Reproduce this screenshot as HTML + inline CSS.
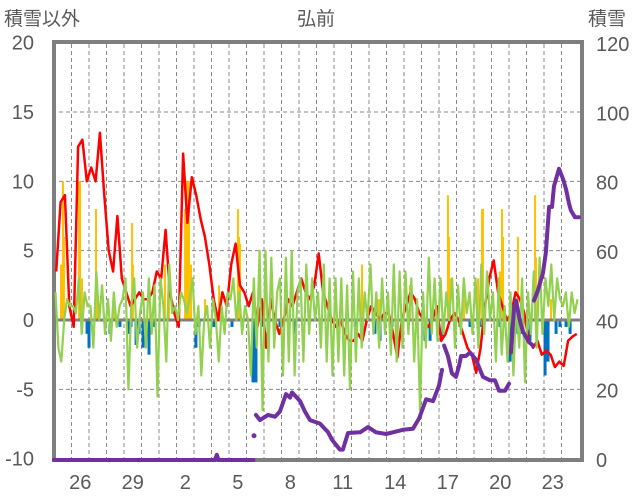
<!DOCTYPE html>
<html><head><meta charset="utf-8">
<style>
html,body{margin:0;padding:0;background:#fff;}
svg{display:block;font-family:"Liberation Sans","Noto Sans CJK JP",sans-serif;}
</style></head>
<body>
<svg id="chart" width="636" height="501" viewBox="0 0 636 501" xmlns="http://www.w3.org/2000/svg">
<text x="316" y="25" font-size="19" fill="#595959" text-anchor="middle">弘前</text>
<text x="4" y="25" font-size="19" fill="#595959">積雪以外</text>
<text x="588" y="25" font-size="19" fill="#595959">積雪</text>
<g id="grid"></g>
<g id="axes"></g>
<g id="bars"></g>
<g id="lines"></g>
</svg>
<script>
const leftTicks = [20, 15, 10, 5, 0, -5, -10];
const rightTicks = [120, 100, 80, 60, 40, 20, 0];
const xLabels = ["26","29","2","5","8","11","14","17","20","23"];
const xLabelDays = [1,4,7,10,13,16,19,22,25,28];
const tempVals = [3.5,8.5,9,1, -0.5,12.5,13,10, 11,10,13.5,9, 5,3.5,7.5,3, 2,1,1.5,2, 1.5,1.5,2,3.5,
 3,6.5,2,0.5, -0.5,12,7,10.3, 9,7.3,6,4, 1.5,0,2,1, 4,5.5,2.5,2, 1,2,-0.5,1.5,
 -2,1.5,0,-1, 0,1.5,1,2, 3,2,1.5,2.5, 4.8,2,1,0, -0.5,0,-1,-1.5, -1.5,-1,-1.5,0,
 1,0.5,0,0.5, 0.5,-1,-2.7,0, 1,2,1.5,0.5, 0,-0.5,0,1, -1.5,-1,0,0.5, 0,-1,-2,-2.5,
 -3.8,-2,1,3, 4.3,2,1,0, 0.5,2,1.5,0.5, -1.5,-2,-1.5,-2.5, -2.2,-2.5,-3.4,-3, -3.3,-1.5,-1.2,-1];
const greenVals = [2,-2,-3,0,1.5,1, 1,0.5,3,-1,2,1, 1,-2,3.5,0,2.5,-1, 1.5,-1.5,2,-0.5,1,1.5,
 3,-5,1,3,-2,0.5, 2,-2,3,-1,2.5,-5.5, 3,1,-3,4,0.5,1, 0,2,1.5,0.5,1.5,3,
 -1,1,-4,0,1,-2, 1.5,0,-3,1,-1,2, 1.5,3,0,2,-1,1, 0,-4,3,-2,5,-6.5,
 5,-3,4.5,-2,2,3, -4,4.5,-3,5,-4,2, 3,-3,4,-1,3,0, 2,-2,4,-3,3,-4,
 3,-3,3,-4,2.5,-5, 3.5,-3,3,-2,2,0, 4,-1,2,-2,3,-1, 2,-2.5,4,-3,3.5,-2,
 3.5,-1,3,-3,1.5,-6.5, 2,-2,4.5,-1,3,-1.5, 3,-1,2,0,3,-2, 2.5,-1,3,0.5,2,-1,
 3,-2,4,-1,3.5,0, 2,-3,3,-2.5,1,-3, 2,-4,1.5,-2,3,-4.5, 2,-1,3.5,-2,4.5,-1,
 3,1,4,0,3,1.5, 1,2,-0.5,2,0.5,1.5];
const precipDays = [0.40,0.51,0.57,1.43,1.49,1.6,2.4,2.46,3.43,4.46,4.51,5.49,6.34,6.57,7.49,7.6,7.71,7.83,8.63,9.43,10.51,10.57,10.63,17.6,18.51,18.63,20.34,22.51,22.57,22.63,23.43,24.23,24.46,24.51,25.49,25.6,25.66,26.51,27.49,27.54,28.4];
const precipVals = [4,10,6,10,10,3,8,3,2,7,4,1.5,4,3,8,10,10,4,1.5,2.5,8,6,5.5,4,1.5,1.5,2.5,9,6,3,2,3,8,8,3.5,8,6,6,9,4.5,1.5];
const negDays = [1.89,2.0,3.2,3.77,4.23,4.4,4.69,4.86,5.09,5.26,5.43,5.6,5.77,8.11,8.29,9.14,10.17,11.37,11.54,11.94,12.91,13.77,16.23,17.2,18.34,18.63,19.31,21.2,21.49,22.23,23.2,23.77,24.34,25.49,26.06,26.23,26.51,26.74,27.2,28.06,28.23,28.69,28.91,29.26,29.49];
const negVals = [-1,-2,-1,-0.5,-1,-0.5,-1.8,-1,-2,-1,-2.5,-0.5,-0.5,-2,-0.5,-0.5,-0.5,-4.5,-4.5,-0.5,-0.5,-1,-0.5,-0.5,-1,-1.5,-0.5,-1.5,-1.5,-1.2,-0.5,-0.5,-0.5,-0.5,-3,-2,-1,-1,-1.5,-4,-3,-1,-0.5,-0.5,-1];
const snowDays = [0,9.2,9.3,9.4,11.4,null,11.43,null,
 11.54,11.77,12.23,12.63,12.91,13.26,13.49,13.6,14.06,14.34,14.63,15.2,15.66,15.89,16.34,16.51,16.8,17.49,17.94,18.4,18.97,19.94,20.51,20.86,21.26,21.66,22.0,22.17,null,
 22.29,22.51,22.74,22.97,23.14,23.26,23.54,23.77,24.11,24.51,24.91,25.2,25.43,25.77,26.0,null,
 26.11,26.29,26.4,26.63,26.8,27.14,27.37,null,
 27.43,27.66,27.94,28.11,28.29,28.46,28.57,28.86,29.09,29.26,29.43,29.54,29.77,30.0];
const snowVals = [0,0,1.5,0,0,null,7,null,
 13,11.5,13,12.5,14,19,18,19.5,17,14,11.5,10.5,8,5.8,3,3,7.8,8,9.5,8,7.5,8.7,9,12,17.5,17,21.5,26,null,
 33,30,25,24,27,30,30,31,29,24,23,23,20,20,22,null,
 31,44,46,40,37,34,33,null,
 46,49,54,60,73,73,79,84,81,78,74,72,70,70];

const NS="http://www.w3.org/2000/svg";
const X0=54, DAYW=17.5, TOP=44, BOT=460, LEFTX=52, RIGHTX=580;
const xS = d => X0 + d*DAYW;
const yL = v => 320 - v*(BOT-TOP)/30;
const yR = v => BOT - v*(BOT-TOP)/120;
function mk(tag, attrs, parent){const e=document.createElementNS(NS,tag);for(const k in attrs)e.setAttribute(k,attrs[k]);parent.appendChild(e);return e;}
const grid=document.getElementById('grid'), bars=document.getElementById('bars'), lines=document.getElementById('lines'), axes=document.getElementById('axes');

leftTicks.forEach(v=>{
  if(v!==0 && v!==20 && v!==-10){
    const l=mk('line',{x1:LEFTX,x2:RIGHTX,y1:yL(v),y2:yL(v),stroke:'#8a8a8a','stroke-width':1,'stroke-dasharray':'4,3'},grid);
    
    
  }
  const t=mk('text',{x:34,y:yL(v)+7,'font-size':20,fill:'#595959','text-anchor':'end'},axes);
  t.textContent=v;
  
  
});
rightTicks.forEach(v=>{
  const t=mk('text',{x:596,y:yR(v)+7,'font-size':20,fill:'#595959'},axes);
  t.textContent=v;
  
  
});
for(let k=1;k<30;k++){
  const l=mk('line',{x1:xS(k),x2:xS(k),y1:TOP,y2:BOT,stroke:'#8a8a8a','stroke-width':1,'stroke-dasharray':'4,3'},grid);
  
  
}
xLabels.forEach((s,i)=>{
  const t=mk('text',{x:xS(xLabelDays[i]+0.5),y:489,'font-size':20,fill:'#595959','text-anchor':'middle'},axes);
  t.textContent=s;
  
  
});

const fr=mk('rect',{x:LEFTX+2,y:TOP-2,width:RIGHTX-LEFTX,height:BOT-TOP+2,fill:'none',stroke:'#7f7f7f','stroke-width':4},axes);



precipDays.forEach((d,i)=>{
  const r=mk('rect',{x:xS(d)-1,y:yL(precipVals[i]),width:2,height:yL(0)-yL(precipVals[i]),fill:'#ffc000'},bars);
  
  
});
negDays.forEach((d,i)=>{
  const r=mk('rect',{x:xS(d)-1.5,y:yL(0),width:3,height:yL(negVals[i])-yL(0),fill:'#0070c0'},bars);
  
  
});

const zl=mk('line',{x1:LEFTX,x2:RIGHTX,y1:yL(0),y2:yL(0),stroke:'#7f7f7f','stroke-width':3},bars);



const redPts=tempVals.map((v,i)=>xS(i*0.25+0.125).toFixed(1)+','+yL(v).toFixed(1)).join(' ');
const red=mk('polyline',{points:redPts,fill:'none',stroke:'#ff0000','stroke-width':2.5,'stroke-linejoin':'round'},lines);



const grPts=greenVals.map((v,i)=>xS(i/6+1/12).toFixed(1)+','+yL(v).toFixed(1)).join(' ');
const gr=mk('polyline',{points:grPts,fill:'none',stroke:'#92d050','stroke-width':2.2,'stroke-linejoin':'round'},lines);



let seg=[];
function flush(){
  if(seg.length===1){
    const c=mk('circle',{cx:seg[0][0],cy:seg[0][1],r:2.5,fill:'#7030a0'},lines);
    
    
  } else if(seg.length>1){
    const p=mk('polyline',{points:seg.map(q=>q[0].toFixed(1)+','+q[1].toFixed(1)).join(' '),fill:'none',stroke:'#7030a0','stroke-width':4,'stroke-linejoin':'round','stroke-linecap':'round'},lines);
    
    
  }
  seg=[];
}
snowDays.forEach((d,i)=>{
  if(d===null||snowVals[i]===null){flush();return;}
  seg.push([xS(d),yR(snowVals[i])]);
});
flush();
</script>
</body></html>
